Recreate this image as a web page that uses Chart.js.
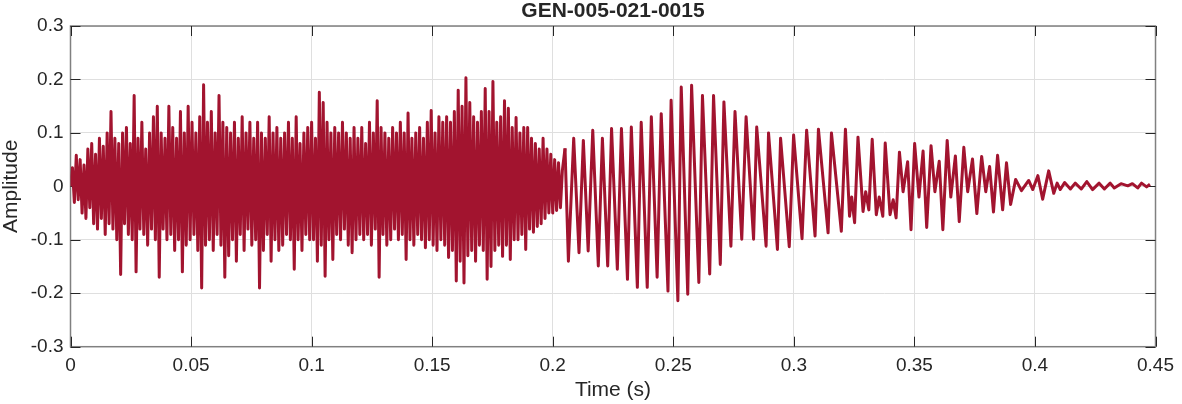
<!DOCTYPE html>
<html>
<head>
<meta charset="utf-8">
<title>GEN-005-021-0015</title>
<script src="https://cdn.jsdelivr.net/npm/chart.js@4.4.0/dist/chart.umd.min.js"></script>
<style>
  body { margin: 0; background: #fff; }
  canvas { display: block; }
</style>
</head>
<body>
<canvas id="myChart" width="1182" height="404"></canvas>
<script>
var chartTitle = "GEN-005-021-0015";
var xTicks = [0, 0.05, 0.1, 0.15, 0.2, 0.25, 0.3, 0.35, 0.4, 0.45];
var yTicks = [-0.3, -0.2, -0.1, 0, 0.1, 0.2, 0.3];

// first part: dense noisy section, one value per sample (sample spacing in s)
var sampleStep = 0.0008;
var noiseAmp = [
  0, 0.035, -0.03, 0.058, -0.025, 0.05, -0.05, 0.04, -0.06, 0.07,
  -0.04, 0.08, -0.07, 0.06, -0.08, 0.09, -0.06, 0.075, -0.09, 0.1,
  -0.07, 0.14, -0.08, 0.09, -0.1, 0.08, -0.165, 0.1, -0.07, 0.11,
  -0.09, 0.08, -0.1, 0.17, -0.16, 0.09, -0.08, 0.12, -0.09, 0.07,
  -0.11, 0.1, -0.08, 0.13, -0.1, 0.15, -0.17, 0.1, -0.08, 0.09,
  -0.1, 0.15, -0.09, 0.11, -0.12, 0.09, -0.1, 0.14, -0.16, 0.1,
  -0.11, 0.15, -0.1, 0.12, -0.09, 0.1, -0.12, 0.13, -0.19, 0.19,
  -0.11, 0.12, -0.1, 0.14, -0.12, 0.1, -0.09, 0.17, -0.11, 0.12,
  -0.17, 0.11, -0.13, 0.1, -0.1, 0.12, -0.14, 0.09, -0.09, 0.13,
  -0.12, 0.1, -0.08, 0.12, -0.11, 0.09, -0.1, 0.12, -0.19, 0.1,
  -0.12, 0.09, -0.09, 0.13, -0.14, 0.1, -0.1, 0.11, -0.12, 0.09,
  -0.11, 0.1, -0.09, 0.12, -0.1, 0.09, -0.155, 0.13, -0.1, 0.08,
  -0.12, 0.1, -0.09, 0.11, -0.1, 0.12, -0.1, 0.09, -0.14, 0.176,
  -0.11, 0.157, -0.168, 0.12, -0.1, 0.1, -0.137, 0.11, -0.09, 0.1,
  -0.1, 0.12, -0.08, 0.1, -0.11, 0.09, -0.124, 0.11, -0.1, 0.09,
  -0.09, 0.11, -0.1, 0.08, -0.09, 0.12, -0.11, 0.1, -0.08, 0.16,
  -0.17, 0.11, -0.09, 0.1, -0.11, 0.09, -0.1, 0.11, -0.08, 0.1,
  -0.1, 0.12, -0.09, 0.1, -0.137, 0.137, -0.1, 0.09, -0.11, 0.1,
  -0.09, 0.11, -0.1, 0.09, -0.115, 0.12, -0.1, 0.142, -0.11, 0.1,
  -0.12, 0.13, -0.1, 0.12, -0.11, 0.13, -0.133, 0.12, -0.12, 0.14,
  -0.177, 0.18, -0.14, 0.15, -0.181, 0.203, -0.13, 0.157, -0.12, 0.13,
  -0.14, 0.12, -0.11, 0.14, -0.12, 0.183, -0.174, 0.14, -0.15, 0.196,
  -0.12, 0.12, -0.11, 0.13, -0.131, 0.16, -0.11, 0.146, -0.137, 0.11,
  -0.1, 0.129, -0.1, 0.1, -0.09, 0.11, -0.118, 0.11, -0.08, 0.09,
  -0.086, 0.08, -0.075, 0.07, -0.07, 0.09, -0.06, 0.07, -0.05, 0.06,
  -0.05, 0.05, -0.045, 0.044, -0.04, 0.03
];

// second part: oscillating section, peaks and troughs
var waveTime = [
  0.2051, 0.2065, 0.2087, 0.2109, 0.2127, 0.2147, 0.2166, 0.2189, 0.2206, 0.2228,
  0.2244, 0.2268, 0.2285, 0.2310, 0.2326, 0.2351, 0.2367, 0.2392, 0.2409, 0.2433,
  0.2450, 0.2478, 0.2491, 0.2519, 0.2533, 0.2560, 0.2576, 0.2606, 0.2621, 0.2651,
  0.2667, 0.2695, 0.2710, 0.2739, 0.2756, 0.2784, 0.2802, 0.2833, 0.2846, 0.2885,
  0.2895, 0.2932, 0.2945, 0.2981, 0.2999, 0.3034, 0.3053, 0.3088, 0.3102, 0.3142,
  0.3156, 0.3197, 0.3214, 0.3231, 0.3240, 0.3252, 0.3266, 0.3287, 0.3298, 0.3311,
  0.3325, 0.3342, 0.3354, 0.3369, 0.3379, 0.3399, 0.3412, 0.3424, 0.3438, 0.3453,
  0.3472, 0.3486, 0.3501, 0.3519, 0.3536, 0.3551, 0.3569, 0.3585, 0.3603, 0.3618,
  0.3636, 0.3651, 0.3670, 0.3686, 0.3705, 0.3721, 0.3741, 0.3759, 0.3779, 0.3796,
  0.3812, 0.3828, 0.3845, 0.3866, 0.3882, 0.3899, 0.3920, 0.3944, 0.3974, 0.3991,
  0.4012, 0.4032, 0.4057, 0.4078, 0.4092, 0.4105, 0.4123, 0.4147, 0.4167, 0.4192,
  0.4215, 0.4239, 0.4266, 0.4288, 0.4312, 0.4329, 0.4357, 0.4385, 0.4404, 0.4426,
  0.4442, 0.4463, 0.4477
];
var waveAmp = [
  0.071, -0.14, 0.09, -0.124, 0.086, -0.121, 0.105, -0.149, 0.09, -0.149,
  0.108, -0.155, 0.108, -0.174, 0.111, -0.189, 0.12, -0.189, 0.13, -0.17,
  0.136, -0.196, 0.161, -0.214, 0.186, -0.202, 0.189, -0.18, 0.17, -0.164,
  0.17, -0.146, 0.158, -0.112, 0.14, -0.099, 0.13, -0.099, 0.111, -0.112,
  0.1, -0.118, 0.09, -0.113, 0.096, -0.098, 0.105, -0.093, 0.107, -0.087,
  0.1, -0.084, 0.107, -0.056, -0.02, -0.068, 0.092, -0.047, -0.01, -0.044,
  0.088, -0.053, -0.02, -0.056, 0.081, -0.053, -0.025, -0.059, 0.064, -0.01,
  0.046, -0.081, 0.08, -0.02, 0.066, -0.077, 0.076, -0.01, 0.047, -0.081,
  0.086, -0.02, 0.057, -0.066, 0.073, -0.01, 0.051, -0.051, 0.056, -0.01,
  0.037, -0.048, 0.058, -0.044, 0.044, -0.034, 0.013, -0.008, 0.011, -0.006,
  0.02, -0.024, 0.029, -0.013, 0.006, -0.006, 0.007, -0.005, 0.006, -0.005,
  0.009, -0.006, 0.006, -0.005, 0.006, -0.003, 0.005, 0.001, 0.005, -0.003,
  0.006, -0.001, 0.004
];

var lineColor = "#A2142F";
var textColor = "#262626";
var fontFamily = '"Liberation Sans", Arial, Helvetica, sans-serif';

function fmtTick(v) {
  return String(Math.round(v * 100) / 100);
}

// MATLAB-like box with inward tick marks on all four sides
var boxTicks = {
  id: "boxTicks",
  beforeDatasetsDraw: function (chart) {
    var ctx = chart.ctx;
    var a = chart.chartArea;
    var xs = chart.scales.x, ys = chart.scales.y;
    var len = 10;
    ctx.save();
    ctx.strokeStyle = "#808080";
    ctx.lineWidth = 1.5;
    ctx.strokeRect(a.left, a.top, a.right - a.left, a.bottom - a.top);
    ctx.strokeStyle = textColor;
    ctx.lineWidth = 1;
    ctx.beginPath();
    xTicks.forEach(function (v) {
      var px = Math.round(xs.getPixelForValue(v)) + 0.5;
      ctx.moveTo(px, a.bottom); ctx.lineTo(px, a.bottom - len);
      ctx.moveTo(px, a.top); ctx.lineTo(px, a.top + len);
    });
    yTicks.forEach(function (v) {
      var py = Math.round(ys.getPixelForValue(v)) + 0.5;
      ctx.moveTo(a.left, py); ctx.lineTo(a.left + len, py);
      ctx.moveTo(a.right, py); ctx.lineTo(a.right - len, py);
    });
    ctx.stroke();
    ctx.restore();
  }
};

var noisePoints = noiseAmp.map(function (v, i) {
  return { x: i * sampleStep, y: v };
});
var wavePoints = waveTime.map(function (t, i) {
  return { x: t, y: waveAmp[i] };
});
// join the two parts so the trace is continuous
noisePoints.push(wavePoints[0]);

var ctx = document.getElementById("myChart").getContext("2d");
var chart = new Chart(ctx, {
  type: "line",
  data: {
    datasets: [
      {
        label: "noise",
        data: noisePoints,
        borderColor: lineColor,
        borderWidth: 3,
        borderJoinStyle: "round",
        pointRadius: 0,
        fill: false,
        tension: 0,
      },
      {
        label: "wave",
        data: wavePoints,
        borderColor: lineColor,
        borderWidth: 3,
        borderJoinStyle: "round",
        pointRadius: 0,
        fill: false,
        tension: 0,
      },
    ],
  },
  plugins: [boxTicks],
  options: {
    responsive: false,
    animation: false,
    devicePixelRatio: 1,
    layout: { padding: { left: 0, right: 21.3, top: 0, bottom: 0 } },
    plugins: {
      legend: { display: false },
      tooltip: { enabled: false },
      title: {
        display: true,
        fullSize: false,
        text: chartTitle,
        color: textColor,
        font: { family: fontFamily, size: 21, weight: "bold", lineHeight: 1 },
        padding: { top: 1, bottom: 4 },
      },
    },
    scales: {
      x: {
        type: "linear",
        min: 0,
        max: 0.45,
        afterBuildTicks: function (s) {
          s.ticks = xTicks.map(function (v) { return { value: v }; });
        },
        afterFit: function (s) { s.height = 57.3; },
        grid: { color: "#dfdfdf", drawTicks: false },
        border: { display: false },
        ticks: {
          autoSkip: false,
          maxRotation: 0,
          padding: 8,
          color: textColor,
          font: { family: fontFamily, size: 19 },
          callback: fmtTick,
        },
        title: {
          display: true,
          text: "Time (s)",
          color: textColor,
          font: { family: fontFamily, size: 21, lineHeight: 1.2 },
          padding: { top: 0, bottom: 1.4 },
        },
      },
      y: {
        min: -0.3,
        max: 0.3,
        afterBuildTicks: function (s) {
          s.ticks = yTicks.map(function (v) { return { value: v }; });
        },
        afterFit: function (s) { s.width = 70.5; },
        grid: { color: "#dfdfdf", drawTicks: false },
        border: { display: false },
        ticks: {
          padding: 7,
          color: textColor,
          font: { family: fontFamily, size: 19 },
          callback: fmtTick,
        },
        title: {
          display: true,
          text: "Amplitude",
          color: textColor,
          font: { family: fontFamily, size: 21, lineHeight: 1.1 },
          padding: { top: 0, bottom: 0 },
        },
      },
    },
  },
});
</script>
</body>
</html>
